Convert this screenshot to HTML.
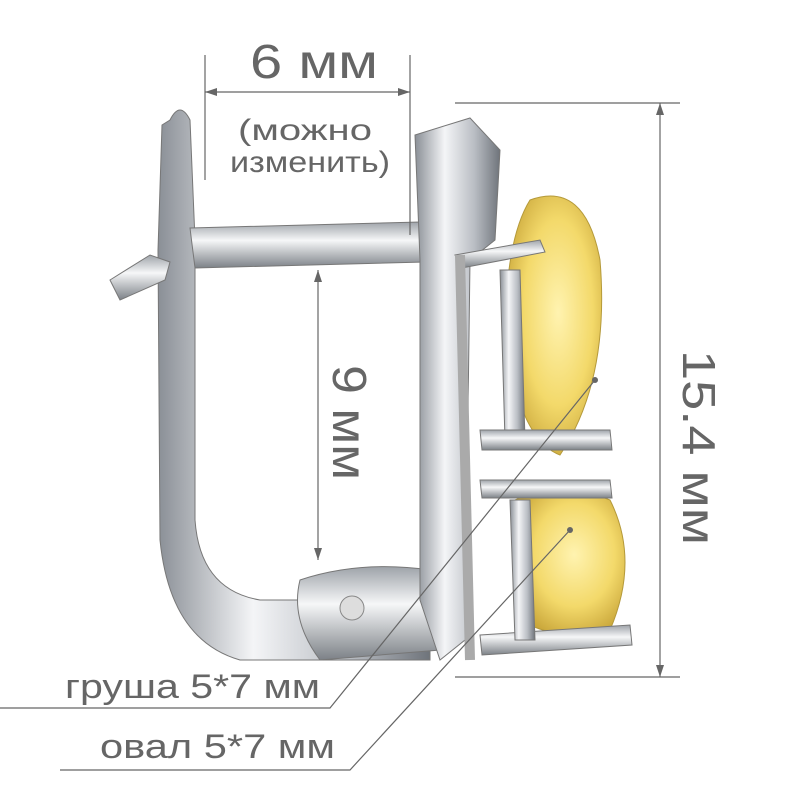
<!DOCTYPE html>
<html><head><meta charset="utf-8"><style>
html,body{margin:0;padding:0;background:#fff;}
svg{display:block;}
text{font-family:"Liberation Sans",sans-serif;fill:#666;}
</style></head><body>
<svg width="800" height="800" viewBox="0 0 800 800" xmlns="http://www.w3.org/2000/svg">
<defs>
<linearGradient id="sil" x1="0" x2="1" y1="0" y2="0">
<stop offset="0" stop-color="#8a8f96"/><stop offset="0.35" stop-color="#f4f5f7"/><stop offset="0.7" stop-color="#b9bdc3"/><stop offset="1" stop-color="#6f747b"/>
</linearGradient>
<linearGradient id="silv" x1="0" x2="0" y1="0" y2="1">
<stop offset="0" stop-color="#9ea3a9"/><stop offset="0.4" stop-color="#f6f7f8"/><stop offset="1" stop-color="#7c8187"/>
</linearGradient>
<radialGradient id="gem" cx="0.55" cy="0.45" r="0.6">
<stop offset="0" stop-color="#fff3b0"/><stop offset="0.6" stop-color="#f3d96a"/><stop offset="1" stop-color="#c9a63a"/>
</radialGradient>
</defs>
<path d="M170 120 Q180 100 190 120 L195 240 L195 520 Q200 590 260 600 L430 600 L430 660 L240 660 Q170 640 160 540 L158 250 L162 125 Z" fill="url(#sil)" stroke="#777" stroke-width="1"/>
<path d="M110 280 L150 255 L170 262 L165 280 L120 300 Z" fill="url(#silv)" stroke="#777"/>
<path d="M190 228 L420 222 L425 262 L195 268 Z" fill="url(#silv)" stroke="#777"/>
<path d="M300 580 Q360 560 430 570 L440 650 L320 660 Q290 620 300 580 Z" fill="url(#silv)" stroke="#777"/>
<circle cx="352" cy="608" r="12" fill="#ddd" stroke="#888"/>
<path d="M415 135 L470 118 L500 150 L495 240 L470 260 L465 640 L440 660 L420 600 L420 260 Z" fill="url(#sil)" stroke="#777"/>
<path d="M530 200 Q585 180 600 260 Q610 380 560 455 Q520 440 505 340 Q505 240 530 200 Z" fill="url(#gem)" stroke="#b59a3a"/>
<path d="M515 500 Q560 480 610 500 Q640 560 610 630 Q560 640 530 625 Q505 570 515 500 Z" fill="url(#gem)" stroke="#b59a3a"/>
<path d="M455 255 L540 240 L545 252 L462 268 Z" fill="url(#silv)" stroke="#777"/>
<path d="M460 255 L470 660" stroke="#aaa" stroke-width="10"/>
<path d="M500 270 L520 270 L525 440 L505 440 Z" fill="url(#sil)" stroke="#777"/>
<path d="M480 430 L610 430 L612 450 L482 450 Z" fill="url(#silv)" stroke="#777"/>
<path d="M480 480 L610 480 L612 498 L482 498 Z" fill="url(#silv)" stroke="#777"/>
<path d="M480 635 L630 625 L632 645 L482 655 Z" fill="url(#silv)" stroke="#777"/>
<path d="M510 500 L530 500 L535 640 L515 640 Z" fill="url(#sil)" stroke="#777"/>
<g stroke="#666" stroke-width="1.2" fill="none">
<line x1="205" y1="55" x2="205" y2="180"/>
<line x1="410" y1="55" x2="410" y2="235"/>
<line x1="205" y1="92" x2="410" y2="92"/>
<line x1="455" y1="103" x2="680" y2="103"/>
<line x1="455" y1="677" x2="680" y2="677"/>
<line x1="660" y1="103" x2="660" y2="677"/>
<line x1="318" y1="270" x2="318" y2="560"/>
<polyline points="0,708 330,708 595,380"/>
<polyline points="60,770 350,770 570,530"/>
</g>
<g fill="#666">
<path d="M205 92 l12 -4 v8 z"/><path d="M410 92 l-12 -4 v8 z"/>
<path d="M660 103 l-4 12 h8 z"/><path d="M660 677 l-4 -12 h8 z"/>
<path d="M318 270 l-4 12 h8 z"/><path d="M318 560 l-4 -12 h8 z"/>
<circle cx="595" cy="380" r="3"/><circle cx="570" cy="530" r="3"/>
</g>
<text x="250" y="78" font-size="48" textLength="128" lengthAdjust="spacingAndGlyphs">6 мм</text>
<text x="238" y="140" font-size="30" textLength="134" lengthAdjust="spacingAndGlyphs">(можно</text>
<text x="230" y="172" font-size="30" textLength="160" lengthAdjust="spacingAndGlyphs">изменить)</text>
<text x="0" y="0" font-size="48" transform="translate(333,365) rotate(90)" textLength="115" lengthAdjust="spacingAndGlyphs">9 мм</text>
<text x="0" y="0" font-size="46" transform="translate(683,350) rotate(90)" textLength="195" lengthAdjust="spacingAndGlyphs">15.4 мм</text>
<text x="65" y="698" font-size="34" textLength="255" lengthAdjust="spacingAndGlyphs">груша 5*7 мм</text>
<text x="100" y="758" font-size="34" textLength="235" lengthAdjust="spacingAndGlyphs">овал 5*7 мм</text>
</svg>
</body></html>
